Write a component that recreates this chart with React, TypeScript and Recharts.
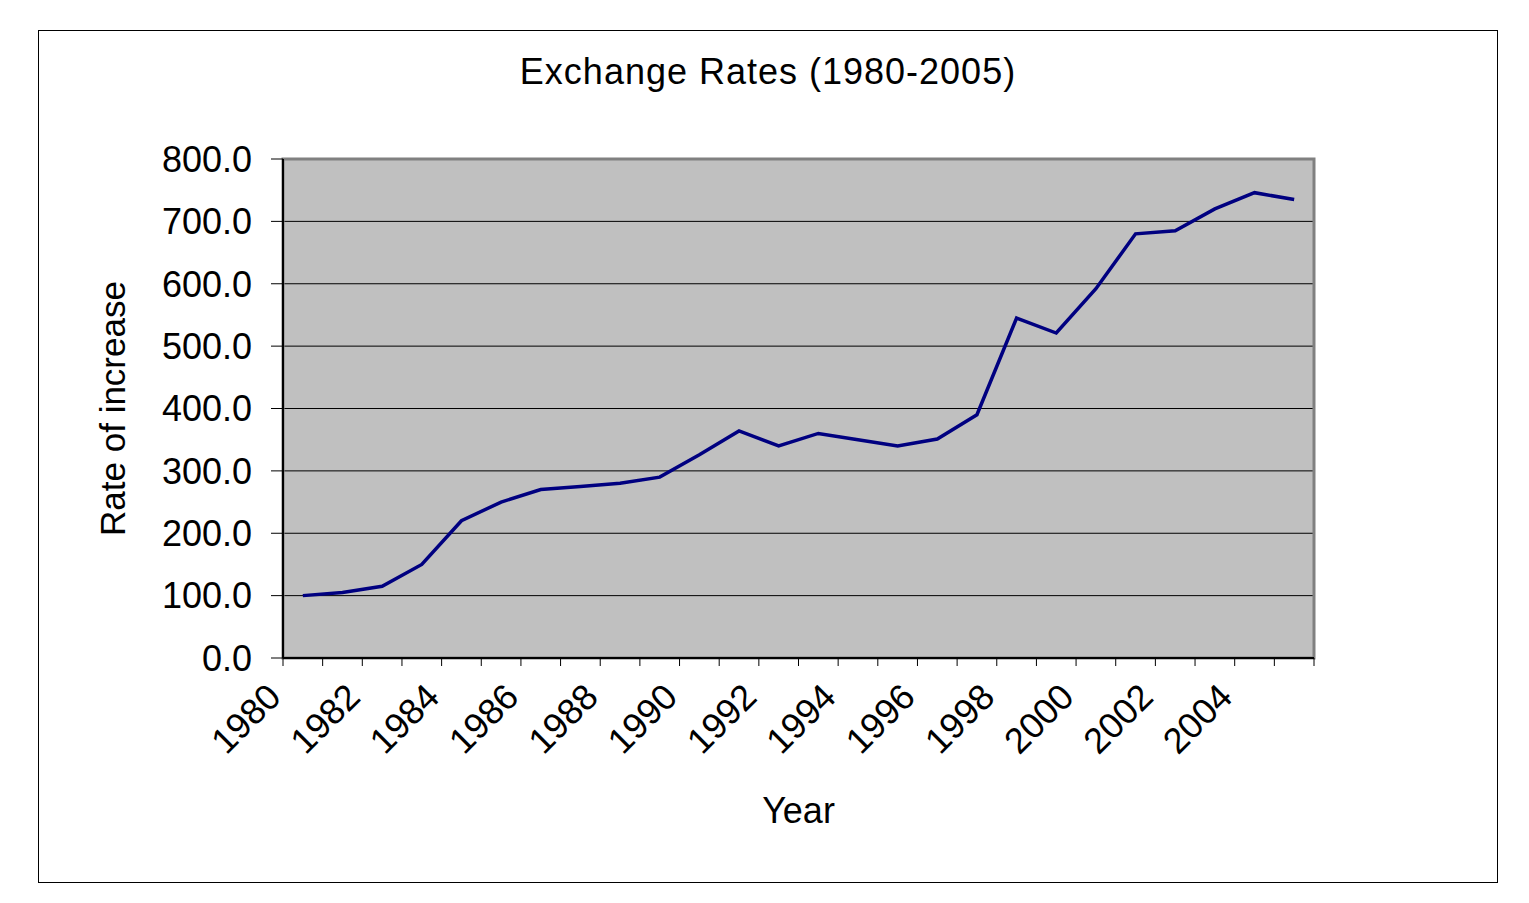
import { LineChart, Line, XAxis, YAxis, CartesianGrid, ReferenceArea, Label } from 'recharts'

const years = [
  1980, 1981, 1982, 1983, 1984, 1985, 1986, 1987, 1988, 1989, 1990, 1991, 1992,
  1993, 1994, 1995, 1996, 1997, 1998, 1999, 2000, 2001, 2002, 2003, 2004, 2005,
]
const rates = [
  100, 105, 115, 150, 220, 250, 270, 275, 280, 290, 326, 364, 340,
  360, 350, 340, 351, 390, 545, 521, 592, 680, 685, 720, 746, 735,
]
const yTicks = [0, 100, 200, 300, 400, 500, 600, 700, 800]
const labelYears = [1980, 1982, 1984, 1986, 1988, 1990, 1992, 1994, 1996, 1998, 2000, 2002, 2004]

const data = years.map((year, i) => ({ year, rate: rates[i] }))
// tick marks sit between categories, like excel
const boundaries = [...years.map((y) => y - 0.5), years[years.length - 1] + 0.5]
const domain: [number, number] = [boundaries[0], boundaries[boundaries.length - 1]]
const xTicks = [...boundaries, ...labelYears].sort((a, b) => a - b)

const FONT = '"Liberation Sans", Arial, sans-serif'

function XTick({ x, y, payload }: any) {
  const v = payload.value
  if (!Number.isInteger(v)) {
    return <line x1={x} x2={x} y1={y} y2={y + 8} stroke="#000" strokeWidth={1} />
  }
  const tx = x - 20
  const ty = y + 41
  return (
    <text
      x={tx}
      y={ty}
      transform={`rotate(-45 ${tx} ${ty})`}
      textAnchor="end"
      fontSize={36}
      fontFamily={FONT}
      fill="#000"
    >
      {v}
    </text>
  )
}

export default function App() {
  return (
    <div
      style={{
        position: 'relative',
        marginLeft: 30,
        marginTop: 22,
        width: 1458,
        height: 851,
        border: '1px solid #000',
        background: '#fff',
      }}
    >
      <div
        style={{
          position: 'absolute',
          left: 0,
          top: 23,
          width: 1458,
          textAlign: 'center',
          fontFamily: FONT,
          fontSize: 36,
          lineHeight: '36px',
          letterSpacing: 1,
          color: '#000',
        }}
      >
        Exchange Rates (1980-2005)
      </div>
      <LineChart
        width={1458}
        height={851}
        data={data}
        margin={{ top: 128, right: 183, bottom: 114, left: 0 }}
        style={{ position: 'absolute', left: 0, top: 0 }}
      >
        <CartesianGrid vertical={false} stroke="#000" strokeWidth={1} fill="#C0C0C0" fillOpacity={1} />
        <ReferenceArea
          x1={domain[0]}
          x2={domain[1]}
          y1={0}
          y2={800}
          fill="none"
          stroke="#808080"
          strokeWidth={3}
        />
        <XAxis
          dataKey="year"
          type="number"
          domain={domain}
          ticks={xTicks}
          allowDataOverflow
          height={110}
          interval={0}
          tickSize={0}
          tickMargin={0}
          tickLine={false}
          tick={<XTick />}
          axisLine={{ stroke: '#000', strokeWidth: 2 }}
        >
          <Label
            content={({ viewBox }: any) => (
              <text
                x={viewBox.x + viewBox.width / 2}
                y={792}
                textAnchor="middle"
                fontSize={36}
                fontFamily={FONT}
                fill="#000"
              >
                Year
              </text>
            )}
          />
        </XAxis>
        <YAxis
          type="number"
          domain={[0, 800]}
          ticks={yTicks}
          width={244}
          interval={0}
          tickSize={12}
          tickMargin={19}
          tickFormatter={(v: number) => v.toFixed(1)}
          tick={{ fill: '#000', fontSize: 36, fontFamily: FONT }}
          tickLine={{ stroke: '#000' }}
          axisLine={{ stroke: '#000', strokeWidth: 2 }}
        >
          <Label
            content={({ viewBox }: any) => {
              const lx = 86
              const ly = viewBox.y + viewBox.height / 2
              return (
                <text
                  x={lx}
                  y={ly}
                  transform={`rotate(-90 ${lx} ${ly})`}
                  textAnchor="middle"
                  fontSize={35}
                  fontFamily={FONT}
                  fill="#000"
                >
                  Rate of increase
                </text>
              )
            }}
          />
        </YAxis>
        <Line
          type="linear"
          dataKey="rate"
          stroke="#000080"
          strokeWidth={3.5}
          dot={false}
          activeDot={false}
          isAnimationActive={false}
        />
      </LineChart>
    </div>
  )
}
